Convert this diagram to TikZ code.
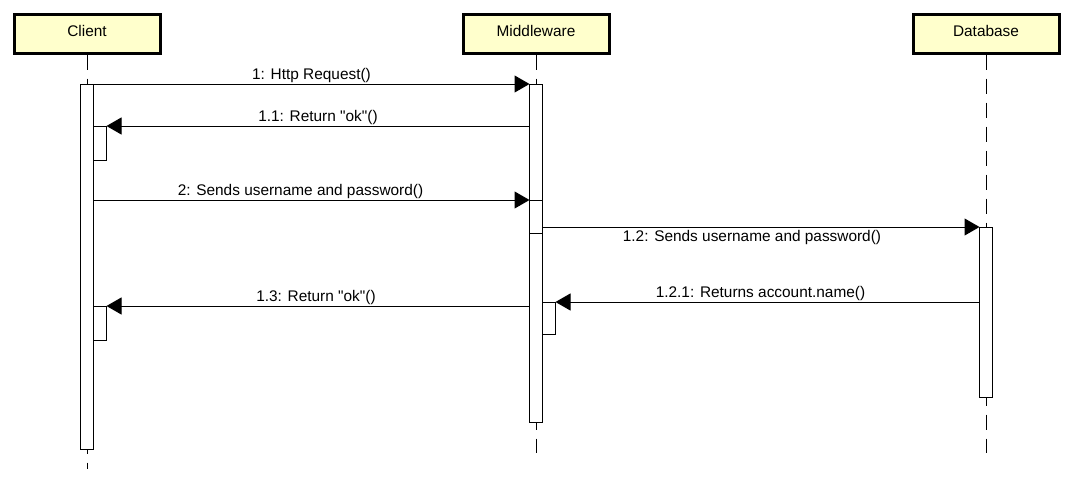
\documentclass[tikz,border=0pt]{standalone}
\usepackage{fontspec}
\setmainfont{Liberation Sans}
\usepackage{tikz}
\usetikzlibrary{arrows.meta}
\definecolor{headfill}{RGB}{255,255,204}
\tikzset{%
    head/.style={draw, line width=3pt, fill=headfill, minimum width=146pt,
        minimum height=39pt, inner sep=0pt, text depth=5pt,
        font=\fontsize{15.4}{18}\selectfont},
    lifeline/.style={line width=1pt, dash pattern=on 15pt off 9pt},
    actbox/.style={draw, fill=white, line width=1pt, minimum width=13pt,
        inner sep=0pt, outer sep=0pt, anchor=north},
    msg/.style={line width=1pt, -{Triangle[length=15pt,width=17pt]}},
    lbl/.style={font=\fontsize{15.4}{18}\selectfont, inner sep=1pt}
}

\begin{document}
\begin{tikzpicture}[x=1pt,y=-1pt]
\useasboundingbox (0,0) rectangle (1072,482);
% heads
\node[head] (client) at (87,33.5)  {Client};
\node[head] (mid)    at (536,33.5) {Middleware};
\node[head] (db)     at (986,33.5) {Database};
% lifelines
\coordinate (clientend) at (87,469);
\coordinate (midend)    at (536,453);
\coordinate (dbend)     at (986,453);
\draw[lifeline] (client.south) -- (clientend);
\draw[lifeline] (mid.south) -- (midend);
\draw[lifeline] (db.south) -- (dbend);
% activations
\node[actbox, minimum height=365pt] (cA) at (87,84)  {};
\node[actbox, minimum height=338pt] (mA) at (536,84) {};
\node[actbox, minimum height=170pt] (dA) at (986,227) {};
\node[actbox, minimum height=33pt]  (mB) at (536,200) {};
\node[actbox, anchor=north west, minimum height=34pt] (cB) at (93.5,126)  {};
\node[actbox, anchor=north west, minimum height=34pt] (cC) at (93.5,306)  {};
\node[actbox, anchor=north west, minimum height=32pt] (mC) at (542.5,302) {};
% messages
\draw[msg] (cA.north east) -- (mA.north west)
    node[lbl, midway, above] {1: Http Request()};
\draw[msg] (mA.west |- cB.north) -- (cB.north east)
    node[lbl, midway, above] {1.1: Return \textquotedbl ok\textquotedbl()};
\draw[msg] (cA.east |- mB.north) -- (mB.north west)
    node[lbl, midway, above, xshift=-11pt] {2: Sends username and password()};
\draw[msg] (mB.east |- dA.north) -- (dA.north west)
    node[lbl, midway, below, inner sep=2.5pt, xshift=-9pt] {1.2: Sends username and password()};
\draw[msg] (dA.west |- mC.north) -- (mC.north east)
    node[lbl, midway, above, xshift=-7pt] {1.2.1: Returns account.name()};
\draw[msg] (mA.west |- cC.north) -- (cC.north east)
    node[lbl, midway, above, xshift=-2pt] {1.3: Return \textquotedbl ok\textquotedbl()};
\end{tikzpicture}
\end{document}
